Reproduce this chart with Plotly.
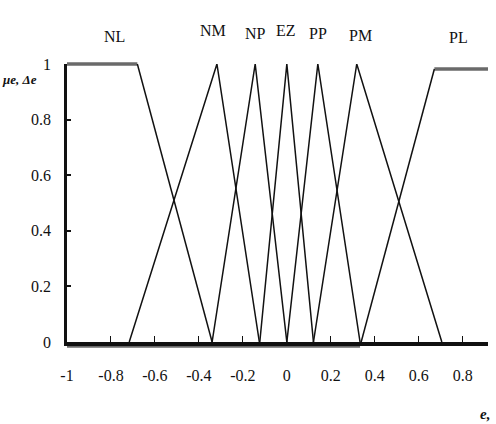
import plotly.graph_objects as go

# ---- data ----
NL_e = [-1.0, -0.68, -0.34]
NL_mu = [1.0, 1.0, 0.0]
NM_e = [-0.717, -0.318, -0.125]
NM_mu = [0.0, 1.0, 0.0]
NP_e = [-0.34, -0.144, 0.0]
NP_mu = [0.0, 1.0, 0.0]
EZ_e = [-0.123, 0.0, 0.121]
EZ_mu = [0.0, 1.0, 0.0]
PP_e = [0.0, 0.141, 0.333]
PP_mu = [0.0, 1.0, 0.0]
PM_e = [0.121, 0.318, 0.705]
PM_mu = [0.0, 1.0, 0.0]
PL_e = [-1.0, 0.333, 0.671, 0.915]
PL_mu = [-0.015, -0.015, 0.982, 0.982]

set_names = ["NL", "NM", "NP", "EZ", "PP", "PM", "PL"]
label_x = [-0.785, -0.335, -0.144, -0.003, 0.142, 0.333, 0.779]
label_y = [1.10, 1.122, 1.108, 1.119, 1.11, 1.104, 1.097]

x_ticks = [-1, -0.8, -0.6, -0.4, -0.2, 0, 0.2, 0.4, 0.6, 0.8]
x_ticktext = ["-1", "-0.8", "-0.6", "-0.4", "-0.2", "0", "0.2", "0.4", "0.6", "0.8"]
y_ticks = [0, 0.2, 0.4, 0.6, 0.8, 1]
y_ticktext = ["0", "0.2", "0.4", "0.6", "0.8", "1"]

FONT = "Liberation Serif"
BLACK = "#111111"
GREY = "#6a6a6a"

fig = go.Figure()

thin = dict(color=BLACK, width=1.5)
thick = dict(color=GREY, width=3.4)

# flat (saturated) parts of NL and PL drawn as thick grey segments;
# y range is [0, 1], so paper y equals the membership value
flat_segments = [
    (NL_e[0], NL_e[1], NL_mu[0], NL_mu[1]),
    (PL_e[0], PL_e[1], PL_mu[0], PL_mu[1]),
    (PL_e[2], PL_e[3], PL_mu[2], PL_mu[3]),
]
for x0, x1, y0, y1 in flat_segments:
    fig.add_shape(type="line", x0=x0, x1=x1, y0=y0, y1=y1, xref="x", yref="paper",
                  line=thick, layer="below")

fig.add_trace(go.Scatter(x=NL_e[1:3], y=NL_mu[1:3], mode="lines", line=thin))
for ex, mu in [(NM_e, NM_mu), (NP_e, NP_mu), (EZ_e, EZ_mu), (PP_e, PP_mu), (PM_e, PM_mu)]:
    fig.add_trace(go.Scatter(x=ex, y=mu, mode="lines", line=thin))
fig.add_trace(go.Scatter(x=PL_e[1:3], y=PL_mu[1:3], mode="lines", line=thin))

for name, lx, ly in zip(set_names, label_x, label_y):
    fig.add_annotation(x=lx, y=ly, xref="x", yref="paper", text=name, showarrow=False,
                       font=dict(family=FONT, size=16, color=BLACK), xanchor="center", yanchor="middle")

fig.add_annotation(x=-0.159, y=0.946, xref="paper", yref="paper", text="<b><i>μe, Δe</i></b>",
                   showarrow=False, xanchor="left", yanchor="middle",
                   font=dict(family=FONT, size=13, color=BLACK))
fig.add_annotation(x=0.993, y=-0.259, xref="paper", yref="paper", text="<b><i>e,</i></b>",
                   showarrow=False, xanchor="center", yanchor="middle",
                   font=dict(family=FONT, size=15, color=BLACK))

fig.update_layout(
    width=496, height=424,
    margin=dict(l=67, r=8, t=64, b=82),
    paper_bgcolor="white", plot_bgcolor="white",
    showlegend=False,
    font=dict(family=FONT, size=16, color=BLACK),
)
fig.update_xaxes(range=[-1, 0.915], showgrid=False, zeroline=False,
                 showline=True, linecolor=BLACK, linewidth=3.5,
                 ticks="inside", ticklen=6, tickwidth=1.2, tickcolor=BLACK,
                 tickvals=x_ticks, ticktext=x_ticktext, ticklabelstandoff=16,
                 tickfont=dict(family=FONT, size=16, color=BLACK))
fig.update_yaxes(range=[0, 1], showgrid=False, zeroline=False,
                 showline=True, linecolor=BLACK, linewidth=2.5,
                 ticks="inside", ticklen=4, tickwidth=1.5, tickcolor=BLACK,
                 tickvals=y_ticks, ticktext=y_ticktext, ticklabelstandoff=10,
                 tickfont=dict(family=FONT, size=16, color=BLACK))

fig.write_html("out.html")
